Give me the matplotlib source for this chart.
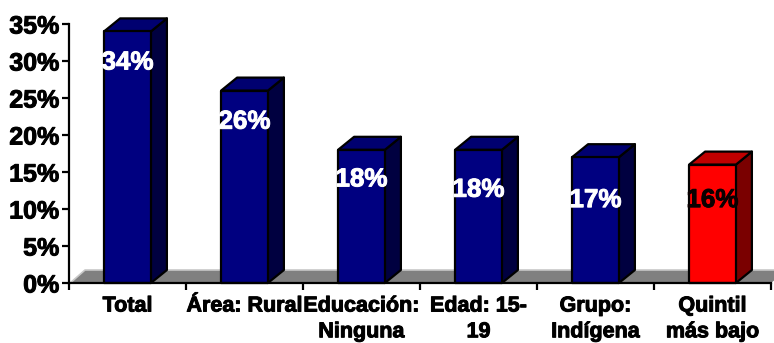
import matplotlib
matplotlib.use("Agg")
import matplotlib.pyplot as plt
import matplotlib.patheffects as pe
from matplotlib.patches import Polygon, Rectangle
from matplotlib.ticker import FuncFormatter, FixedLocator

categories = ["Total", "Área: Rural", "Educación:\nNinguna", "Edad: 15-\n19",
              "Grupo:\nIndígena", "Quintil\nmás bajo"]
values = [34, 26, 18, 18, 17, 16]
highlight = [False, False, False, False, False, True]
# label heights relative to the bar top (percentage points)
label_drop = [4.2, 4.2, 4.0, 5.4, 5.8, 4.8]

plt.rcParams["font.family"] = ["Liberation Sans", "DejaVu Sans"]
plt.rcParams["font.weight"] = "bold"

W, H = 774, 343
fig = plt.figure(figsize=(W / 100, H / 100), dpi=100)
ax = fig.add_axes([69 / W, (H - 283) / H, (771 - 69) / W, (283 - 24) / H])
ax.set_xlim(-0.5, len(values) - 0.5)
ax.set_ylim(0, 35)

# depth of the 3D effect in pixels, converted to data units
depth_px = (16, 13)
ux = (len(values)) / (771 - 69)
uy = 35 / (283 - 24)
dx, dy = depth_px[0] * ux, depth_px[1] * uy


def heavy(color):
    return [pe.withStroke(linewidth=0.7, foreground=color)]


# floor
floor = Polygon([(-0.5 + 0.01, 0), (-0.5 + dx, dy), (5.5 + dx, dy), (5.5, 0)],
                closed=True, facecolor="#808080", edgecolor="none",
                zorder=1, clip_on=False)
ax.add_patch(floor)
ax.plot([-0.5 + 0.01, -0.5 + dx, 5.5 + dx], [0, dy, dy], color="#c8c8c8",
        lw=1.2, zorder=1.5, clip_on=False)

bw = 0.40
for i, (v, hi) in enumerate(zip(values, highlight)):
    if hi:
        front, top, side = "#ff0000", "#c00000", "#7a0000"
    else:
        front, top, side = "#000080", "#000070", "#000040"
    x0, x1 = i - bw / 2, i + bw / 2
    ax.add_patch(Polygon([(x1, 0), (x1 + dx, dy), (x1 + dx, v + dy), (x1, v)],
                         closed=True, facecolor=side, edgecolor="black",
                         lw=1.6, zorder=3, clip_on=False, joinstyle="round"))
    ax.add_patch(Polygon([(x0, v), (x0 + dx, v + dy), (x1 + dx, v + dy), (x1, v)],
                         closed=True, facecolor=top, edgecolor="black",
                         lw=1.6, zorder=3, clip_on=False, joinstyle="round"))
    ax.add_patch(Rectangle((x0, 0), bw, v, facecolor=front, edgecolor="black",
                           lw=1.6, zorder=4, clip_on=False, joinstyle="round"))
    tcolor = "#0a0000" if hi else "white"
    ax.text(i, v - label_drop[i], f"{v}%", ha="center", va="center",
            fontsize=18.7, fontweight="bold", color=tcolor, zorder=6,
            path_effects=heavy(tcolor))

for s in ("top", "right"):
    ax.spines[s].set_visible(False)
for s in ("left", "bottom"):
    ax.spines[s].set_linewidth(1.6)
    ax.spines[s].set_zorder(5)

ax.yaxis.set_major_locator(FixedLocator(range(0, 36, 5)))
ax.yaxis.set_major_formatter(FuncFormatter(lambda y, _: f"{int(y)}%"))
ax.tick_params(axis="y", length=5, width=1.6, pad=2, labelsize=18)
for t in ax.get_yticklabels():
    t.set_fontweight("bold")
    t.set_path_effects(heavy("black"))

ax.set_xticks(range(len(values)))
ax.set_xticklabels(categories, fontsize=15.5, fontweight="bold", linespacing=1.3)
for t in ax.get_xticklabels():
    t.set_path_effects(heavy("black"))
ax.tick_params(axis="x", which="major", length=0, pad=9)
ax.set_xticks([i - 0.5 for i in range(len(values) + 1)], minor=True)
ax.tick_params(axis="x", which="minor", length=5, width=1.6)

fig.savefig("out.png", dpi=100)
